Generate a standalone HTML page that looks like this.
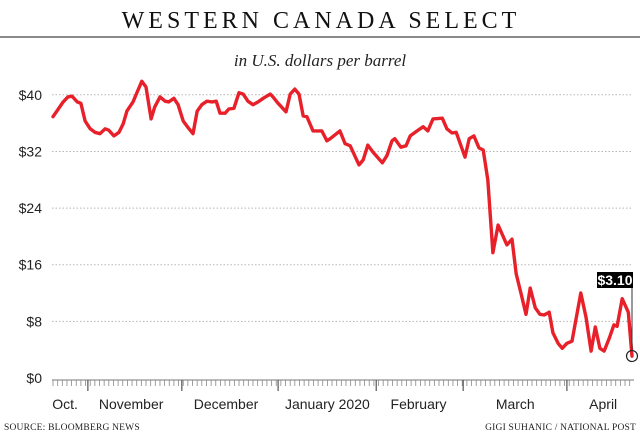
<!DOCTYPE html>
<html><head><meta charset="utf-8">
<style>
html,body{margin:0;padding:0;background:#fff;width:640px;height:441px;overflow:hidden}
svg{display:block}
.ax{font-family:"Liberation Sans Narrow","Liberation Sans",sans-serif;font-size:14px;fill:#222}
.src{font-family:"Liberation Serif",serif;font-size:9.5px;fill:#222;letter-spacing:0.2px}
</style></head><body>
<svg id="chart" width="640" height="441">
<text x="321" y="28" text-anchor="middle" font-family="Liberation Serif,serif" font-size="24" letter-spacing="4" fill="#111">WESTERN CANADA SELECT</text>
<rect x="0" y="36" width="640" height="2" fill="#8a8a8a"/>
<text x="320" y="66" text-anchor="middle" font-family="Liberation Serif,serif" font-style="italic" font-size="17" fill="#222">in U.S. dollars per barrel</text>
<g id="grid"></g><g id="xaxis"></g><g id="series"></g><g id="annot"></g>
<text x="4" y="430" class="src">SOURCE: BLOOMBERG NEWS</text>
<text x="636" y="430" text-anchor="end" class="src">GIGI SUHANIC / NATIONAL POST</text>
</svg>
<script>
const days=[0,2.2,3.2,4.1,5.2,6.0,6.9,8.0,9.0,10.1,11.2,12.0,13.1,14.2,15.1,15.9,17.2,18.1,19.1,20.0,21.1,21.9,23.0,24.1,24.9,26.0,26.9,28.0,29.0,30.1,31.0,32.0,33.1,34.2,35.1,35.9,37.0,37.8,38.9,40.0,40.9,41.9,43.0,44.1,45.2,46.7,47.3,48.4,50.1,51.0,52.0,52.9,53.8,54.6,55.9,57.8,58.9,59.6,61.7,62.8,63.9,65.8,66.7,67.7,68.8,70.8,71.8,72.9,73.5,74.8,75.9,76.8,78.3,79.6,80.6,81.7,83.7,84.7,85.8,86.7,88.6,89.5,90.5,91.6,92.5,93.5,94.6,95.7,97.6,98.7,99.6,100.6,101.7,102.6,103.7,104.7,105.6,106.7,107.5,108.6,109.5,110.5,111.6,113.5,114.6,115.7,116.6,117.6,118.5,119.6,120.6,121.3,122.4,123.7,124.5];
const prices=[36.9,39.0,39.7,39.8,39.0,38.8,36.3,35.2,34.7,34.5,35.2,35.0,34.2,34.7,35.9,37.7,39.0,40.4,41.9,41.1,36.6,38.3,39.7,39.1,39.0,39.5,38.6,36.3,35.4,34.5,37.7,38.6,39.1,39.0,39.1,37.4,37.4,38.0,38.1,40.3,40.1,39.1,38.6,39.0,39.5,40.1,39.7,38.8,37.6,40.1,40.8,40.1,37.0,36.9,34.9,34.9,33.5,33.8,34.9,33.1,32.8,30.1,30.8,32.9,31.9,30.4,31.4,33.5,33.8,32.6,32.8,34.2,34.9,35.5,34.9,36.6,36.7,35.2,34.6,34.7,31.2,33.8,34.2,32.5,32.2,28.0,17.7,21.6,18.8,19.6,14.7,12.0,9.0,12.7,9.9,9.0,8.9,9.3,6.4,4.9,4.2,4.9,5.2,12.0,8.6,3.8,7.2,4.2,3.8,5.6,7.5,7.3,11.2,9.3,3.1];
const yTicks=[0,8,16,24,32,40];
const yTickLabels=["$0","$8","$16","$24","$32","$40"];
const monthTicks=[7.5,27.7,48.4,69.5,88.2,110.5];
const monthLabels=["Oct.","November","December","January 2020","February","March","April"];
const monthLabelPos=[2.6,16.8,37.2,59.0,78.6,99.4,118.3];
const lastLabel="$3.10";

const NS="http://www.w3.org/2000/svg";
const X0=53,X1=632,D0=0,D1=124.5,Y0=378,PPD=7.08;
const xs=d=>X0+(d-D0)/(D1-D0)*(X1-X0);
const ys=v=>Y0-v*PPD;
function mk(tag,attrs,parent){const e=document.createElementNS(NS,tag);for(const k in attrs)e.setAttribute(k,attrs[k]);parent.appendChild(e);return e;}
const grid=document.getElementById('grid'),xa=document.getElementById('xaxis'),se=document.getElementById('series'),an=document.getElementById('annot');

yTicks.forEach((v,i)=>{
  if(v>0){const l=mk('line',{x1:52,x2:632,y1:ys(v),y2:ys(v),stroke:'#b5b5b5','stroke-width':1,'stroke-dasharray':'1.5,2'},grid);
  
  }
  const t=mk('text',{x:42,y:ys(v)+5,'text-anchor':'end',class:'ax'},grid);t.textContent=yTickLabels[i];
  
  
});
const base=mk('line',{x1:52,x2:634,y1:380,y2:380,stroke:'#777','stroke-width':1},xa);


for(let d=0;d<=D1+0.01;d+=1){
  const t=mk('line',{x1:xs(d),x2:xs(d),y1:380,y2:386,stroke:'#888','stroke-width':0.8},xa);
  
  
}
monthTicks.forEach(d=>{
  const t=mk('line',{x1:xs(d),x2:xs(d),y1:380,y2:391,stroke:'#555','stroke-width':1.2},xa);
  
  
});
monthLabels.forEach((m,i)=>{
  const t=mk('text',{x:xs(monthLabelPos[i]),y:409,'text-anchor':'middle',class:'ax'},xa);t.textContent=m;
  
  
});
const pts=days.map((d,i)=>xs(d).toFixed(1)+','+ys(prices[i]).toFixed(1)).join(' ');
const pl=mk('polyline',{points:pts,fill:'none',stroke:'#e8202a','stroke-width':3.4,'stroke-linejoin':'round','stroke-linecap':'round'},se);


const lx=xs(days[days.length-1]),ly=ys(prices[prices.length-1]);
const vl=mk('line',{x1:lx,x2:lx,y1:286,y2:ly-5,stroke:'#333','stroke-width':1},an);


const c=mk('circle',{cx:lx,cy:ly,r:5.5,fill:'none',stroke:'#222','stroke-width':1.2},an);


const bx=mk('rect',{x:lx-35,y:272,width:36,height:16,fill:'#000'},an);


const bt=mk('text',{x:lx-17,y:285,'text-anchor':'middle',fill:'#fff','font-family':'Liberation Sans Narrow,Liberation Sans,sans-serif','font-size':14,'font-weight':'bold'},an);
bt.textContent=lastLabel;


</script>
</body></html>
